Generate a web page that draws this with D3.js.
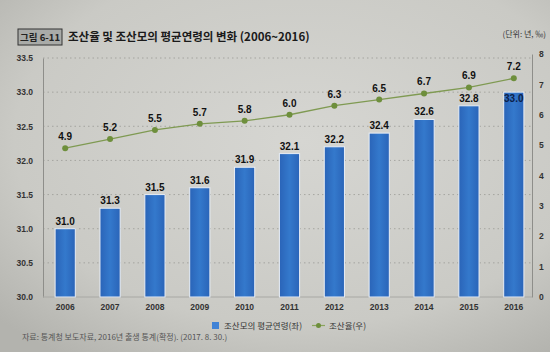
<!DOCTYPE html>
<html><head><meta charset="utf-8">
<script src="https://cdn.jsdelivr.net/npm/d3@7"></script>
<style>
html,body{margin:0;padding:0;background:#cdcdc8;}
svg{display:block;}
text{font-family:"Noto Sans CJK KR","Noto Sans",sans-serif;}
</style></head>
<body>
<svg id="c" width="550" height="352"></svg>
<script>
const years = ["2006","2007","2008","2009","2010","2011","2012","2013","2014","2015","2016"];
const motherAge = [31.0,31.3,31.5,31.6,31.9,32.1,32.2,32.4,32.6,32.8,33.0];
const pretermRate = [4.9,5.2,5.5,5.7,5.8,6.0,6.3,6.5,6.7,6.9,7.2];
const leftTicks = [30.0,30.5,31.0,31.5,32.0,32.5,33.0,33.5];
const rightTicks = [0,1,2,3,4,5,6,7,8];

const svg = d3.select("#c");
const defs = svg.append("defs");
const bg = defs.append("radialGradient").attr("id","bg").attr("cx","55%").attr("cy","40%").attr("r","75%");
bg.append("stop").attr("offset","0%").attr("stop-color","#d6d6d2");
bg.append("stop").attr("offset","70%").attr("stop-color","#cacac5");
bg.append("stop").attr("offset","100%").attr("stop-color","#b3b3ae");
svg.append("rect").attr("width",550).attr("height",352).attr("fill","url(#bg)");
const bar = defs.append("linearGradient").attr("id","bar").attr("x1","0").attr("x2","1");
bar.append("stop").attr("offset","0%").attr("stop-color","#2a64b8");
bar.append("stop").attr("offset","50%").attr("stop-color","#3479cc");
bar.append("stop").attr("offset","100%").attr("stop-color","#2a64b8");

const pTop = 58, pBottom = 297, pLeft = 43, pRight = 532;
const x = d3.scaleBand().domain(years).range([pLeft, pRight+4]).paddingInner(0.55).paddingOuter(0.27);
const yL = d3.scaleLinear().domain([30, 33.5]).range([pBottom, pTop]);
const yR = d3.scaleLinear().domain([0, 8]).range([pBottom, pTop-4]);

// grid
svg.append("g").selectAll("line").data(leftTicks.slice(1)).join("line")
  .attr("x1", pLeft).attr("x2", pRight).attr("y1", d=>yL(d)).attr("y2", d=>yL(d))
  .attr("stroke","#9a9a96").attr("stroke-width",0.8).attr("stroke-dasharray","1.5,3");

// left axis
const ga = svg.append("g").attr("transform",`translate(${pLeft},0)`)
  .call(d3.axisLeft(yL).tickValues(leftTicks).tickFormat(d3.format(".1f")).tickSize(0).tickPadding(10));
ga.select(".domain").attr("stroke","#8e8e8a");
ga.selectAll("text").attr("font-size",8.5).attr("font-weight","bold").attr("fill","#333")
  .style("font-family","'Liberation Sans',sans-serif");

// right axis
const gr = svg.append("g").attr("transform",`translate(${pRight},0)`)
  .call(d3.axisRight(yR).tickValues(rightTicks).tickSize(0).tickPadding(7));
gr.select(".domain").attr("stroke","#8e8e8a");
gr.selectAll("text").attr("font-size",8.5).attr("font-weight","bold").attr("fill","#333")
  .style("font-family","'Liberation Sans',sans-serif");

// bottom baseline
svg.append("line").attr("x1",pLeft).attr("x2",pRight).attr("y1",pBottom).attr("y2",pBottom).attr("stroke","#a8a8a4");

// x labels
svg.append("g").selectAll("text").data(years).join("text")
  .attr("x", d=>x(d)+x.bandwidth()/2).attr("y", pBottom+13).attr("text-anchor","middle")
  .attr("font-size",8.5).attr("font-weight","bold").attr("fill","#333")
  .style("font-family","'Liberation Sans',sans-serif").text(d=>d);

// bars
svg.append("g").selectAll("rect").data(motherAge).join("rect")
  .attr("x",(d,i)=>x(years[i])).attr("width",x.bandwidth())
  .attr("y",d=>yL(d)).attr("height",d=>pBottom-yL(d))
  .attr("fill","url(#bar)").attr("stroke","#e8eef6").attr("stroke-width",1);

svg.append("g").selectAll("text").data(motherAge).join("text")
  .attr("x",(d,i)=>x(years[i])+x.bandwidth()/2)
  .attr("y",(d,i)=> i===motherAge.length-1 ? yL(d)+10 : yL(d)-4)
  .attr("text-anchor","middle").attr("font-size",10).attr("font-weight","bold")
  .attr("fill",(d,i)=> i===motherAge.length-1 ? "#0c1f4a" : "#111")
  .style("font-family","'Liberation Sans',sans-serif")
  .text(d=>d.toFixed(1));

// line
const line = d3.line().x((d,i)=>x(years[i])+x.bandwidth()/2).y(d=>yR(d));
svg.append("path").datum(pretermRate).attr("d",line).attr("fill","none")
  .attr("stroke","#7f9a52").attr("stroke-width",1.3);
svg.append("g").selectAll("circle").data(pretermRate).join("circle")
  .attr("cx",(d,i)=>x(years[i])+x.bandwidth()/2).attr("cy",d=>yR(d)).attr("r",3)
  .attr("fill","#6e8f3c");
svg.append("g").selectAll("text").data(pretermRate).join("text")
  .attr("x",(d,i)=>x(years[i])+x.bandwidth()/2).attr("y",d=>yR(d)-8)
  .attr("text-anchor","middle").attr("font-size",10).attr("font-weight","bold").attr("fill","#111")
  .style("font-family","'Liberation Sans',sans-serif")
  .text(d=>d.toFixed(1));

// title
svg.append("rect").attr("x",18).attr("y",29).attr("width",44).attr("height",16)
  .attr("fill","#a9aba8").attr("stroke","#333").attr("stroke-width",1);
svg.append("text").attr("x",40).attr("y",41).attr("text-anchor","middle")
  .attr("font-size",9.5).attr("font-weight","bold").attr("fill","#222").text("그림 6-11");
svg.append("text").attr("x",68).attr("y",41).attr("font-size",11.5).attr("font-weight","bold")
  .attr("fill","#1a1a1a").text("조산율 및 조산모의 평균연령의 변화 (2006~2016)");
svg.append("text").attr("x",546).attr("y",37).attr("text-anchor","end")
  .attr("font-size",8).attr("fill","#333").text("(단위: 년, ‰)");

// legend
svg.append("rect").attr("x",212).attr("y",322).attr("width",7).attr("height",7).attr("fill","#3f82d6");
svg.append("text").attr("x",224).attr("y",329).attr("font-size",8.5).attr("fill","#333").text("조산모의 평균연령(좌)");
svg.append("line").attr("x1",312).attr("x2",325).attr("y1",325.5).attr("y2",325.5).attr("stroke","#8aa45c").attr("stroke-width",1.2);
svg.append("circle").attr("cx",318.5).attr("cy",325.5).attr("r",2.5).attr("fill","#6e8f3c");
svg.append("text").attr("x",329).attr("y",329).attr("font-size",8.5).attr("fill","#333").text("조산율(우)");

// source
svg.append("text").attr("x",22).attr("y",340).attr("font-size",8).attr("fill","#555")
  .text("자료: 통계청 보도자료, 2016년 출생 통계(확정). (2017. 8. 30.)");
</script>
</body></html>
